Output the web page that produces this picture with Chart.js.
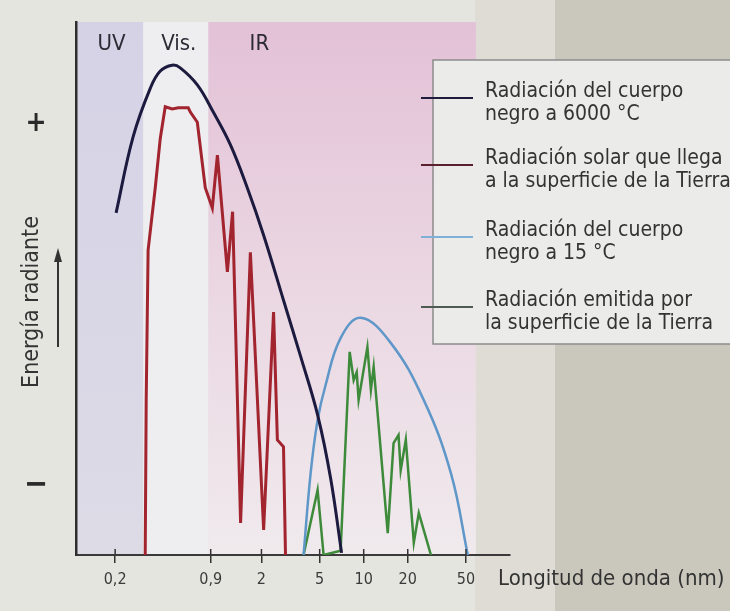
<!DOCTYPE html>
<html>
<head>
<meta charset="utf-8">
<script src="https://cdn.jsdelivr.net/npm/chart.js@4.4.1/dist/chart.umd.min.js"></script>
<style>
  html, body { margin: 0; padding: 0; }
  body {
    width: 730px; height: 611px; overflow: hidden;
    background: linear-gradient(to right, #e5e5df 0, #e5e5df 475px, #dedcd5 475px, #dedcd5 555px, #cac8bc 555px, #cac8bc 730px);
  }
  canvas { display: block; }
</style>
</head>
<body>
<canvas id="chart" width="730" height="611"></canvas>
<script>
// wavelength axis (log), ticks as printed
const xTickValues = [0.2, 0.9, 2, 5, 10, 20, 50];
const xTickLabels = ['0,2', '0,9', '2', '5', '10', '20', '50'];

// spectral bands: UV | Vis. | IR (wavelength limits)
const bandLabels = ['UV', 'Vis.', 'IR'];
const bandEdges = [0.108, 0.311, 0.867, 58.5];

const seriesNames = [
  ['Radiación del cuerpo', 'negro a 6000 °C'],
  ['Radiación solar que llega', 'a la superficie de la Tierra'],
  ['Radiación del cuerpo', 'negro a 15 °C'],
  ['Radiación emitida por', 'la superficie de la Tierra']
];

// black body 6000 °C
const sunBodyWave = [0.203, 0.265, 0.348, 0.407, 0.491, 0.557, 0.729, 0.937, 1.23, 1.60, 2.07, 2.83, 3.70, 4.84, 5.94, 7.06];
const sunBodyVal  = [64.2, 78.4, 87.6, 90.8, 91.9, 91.4, 88.2, 83.1, 76.9, 68.9, 60.0, 47.8, 37.3, 26.3, 14.4, 0.4];

// solar radiation reaching the ground
const solarWave = [0.321, 0.326, 0.336, 0.376, 0.407, 0.440, 0.491, 0.540, 0.632, 0.653, 0.729, 0.826, 0.923, 1.0, 1.17, 1.27, 1.44, 1.68, 2.07, 2.42, 2.57, 2.83, 2.92];
const solarVal  = [0, 29.1, 57.2, 68.9, 78.2, 84.1, 83.7, 83.9, 83.9, 83.1, 81.2, 68.9, 65.1, 75.0, 53.1, 64.4, 6.0, 56.8, 4.7, 45.6, 21.6, 20.3, 0];

// black body 15 °C
const earthBodyWave = [3.88, 4.34, 4.84, 5.49, 6.95, 9.53, 15.3, 25.7, 39.4, 51.5];
const earthBodyVal  = [0, 15.4, 25.3, 31.9, 40.7, 44.5, 39.8, 29.1, 15.4, 0];

// emitted by the Earth's surface
const earthWave = [3.88, 4.84, 5.32, 6.95, 8.02, 8.54, 8.96, 9.23, 10.6, 11.2, 11.7, 14.6, 16.0, 17.3, 17.9, 19.4, 22.0, 23.8, 28.8];
const earthVal  = [0, 12.2, 0, 0.8, 38.1, 32.8, 34.3, 29.1, 39.0, 31.0, 35.3, 4.1, 21.0, 22.5, 15.9, 21.6, 2.3, 7.9, 0];

const FONT = "'DejaVu Sans Condensed', 'DejaVu Sans', sans-serif";

function pts(xs, ys) {
  return xs.map((x, i) => ({ x: x, y: ys[i] }));
}

const bandsPlugin = {
  id: 'bands',
  beforeDraw(chart) {
    const { ctx, chartArea, scales } = chart;
    const { top, bottom, left, right } = chartArea;
    const px = bandEdges.map(v => scales.x.getPixelForValue(v));
    const h = bottom - top;
    ctx.save();
    let g = ctx.createLinearGradient(0, top, 0, bottom);
    g.addColorStop(0, '#d5d2e6');
    g.addColorStop(1, '#dddbe6');
    ctx.fillStyle = g;
    ctx.fillRect(left, top, px[1] - left, h);
    ctx.fillStyle = '#eeedf0';
    ctx.fillRect(px[1], top, px[2] - px[1], h);
    g = ctx.createLinearGradient(0, top, 0, bottom);
    g.addColorStop(0, '#e3c1d7');
    g.addColorStop(0.45, '#ead5e1');
    g.addColorStop(1, '#f0eaed');
    ctx.fillStyle = g;
    ctx.fillRect(px[2], top, px[3] - px[2], h);
    ctx.fillStyle = '#dedcd5';
    ctx.fillRect(px[3], top, right - px[3], h);

    ctx.fillStyle = '#2c2a34';
    ctx.font = '22px ' + FONT;
    ctx.textAlign = 'center';
    ctx.textBaseline = 'middle';
    ctx.fillText(bandLabels[0], (left + px[1]) / 2 + 2, 44);
    ctx.fillText(bandLabels[1], (px[1] + px[2]) / 2 + 3, 44);
    ctx.fillText(bandLabels[2], px[2] + 51, 44);
    ctx.restore();
  }
};

const legendColors = ['#1e1c3a', '#5a1f2c', '#7fb0d8', '#4f5a52'];
const legendRows = [98, 165, 237, 307];

const annotPlugin = {
  id: 'annot',
  afterDraw(chart) {
    const { ctx, chartArea, scales } = chart;
    ctx.save();

    // tick marks poking above the axis
    ctx.strokeStyle = '#333';
    ctx.lineWidth = 1.5;
    xTickValues.forEach(v => {
      const x = scales.x.getPixelForValue(v);
      ctx.beginPath();
      ctx.moveTo(x, chartArea.bottom - 6);
      ctx.lineTo(x, chartArea.bottom);
      ctx.stroke();
    });

    // legend box
    ctx.fillStyle = '#ebebea';
    ctx.fillRect(433, 60, 310, 284);
    ctx.strokeStyle = '#8c8c8c';
    ctx.lineWidth = 1.5;
    ctx.strokeRect(433, 60, 310, 284);
    ctx.font = '21px ' + FONT;
    ctx.textAlign = 'left';
    ctx.textBaseline = 'alphabetic';
    seriesNames.forEach((lines, i) => {
      const y = legendRows[i];
      ctx.strokeStyle = legendColors[i];
      ctx.lineWidth = 2;
      ctx.beginPath();
      ctx.moveTo(421, y);
      ctx.lineTo(473, y);
      ctx.stroke();
      ctx.fillStyle = '#333';
      ctx.fillText(lines[0], 485, y - 1);
      ctx.fillText(lines[1], 485, y + 22);
    });

    // y side: + / - and title with arrow
    ctx.fillStyle = '#2a2a2a';
    ctx.textAlign = 'center';
    ctx.textBaseline = 'middle';
    ctx.font = 'bold 28px ' + FONT;
    ctx.fillText('+', 36, 124);
    ctx.font = 'bold 32px ' + FONT;
    ctx.fillText('−', 36, 486);

    ctx.save();
    ctx.translate(32, 302);
    ctx.rotate(-Math.PI / 2);
    ctx.font = '23px ' + FONT;
    ctx.fillStyle = '#333';
    ctx.fillText('Energía radiante', 0, 0);
    ctx.restore();

    ctx.strokeStyle = '#333';
    ctx.lineWidth = 2;
    ctx.beginPath();
    ctx.moveTo(58, 347);
    ctx.lineTo(58, 258);
    ctx.stroke();
    ctx.fillStyle = '#333';
    ctx.beginPath();
    ctx.moveTo(58, 248);
    ctx.lineTo(62, 262);
    ctx.lineTo(54, 262);
    ctx.closePath();
    ctx.fill();

    // x title
    ctx.textAlign = 'left';
    ctx.textBaseline = 'alphabetic';
    ctx.font = '22px ' + FONT;
    ctx.fillStyle = '#333';
    ctx.fillText('Longitud de onda (nm)', 498, 585);
    ctx.restore();
  }
};

new Chart(document.getElementById('chart').getContext('2d'), {
  type: 'line',
  data: {
    datasets: [
      {
        label: seriesNames[0].join(' '),
        data: pts(sunBodyWave, sunBodyVal),
        borderColor: '#1c1a3e',
        borderWidth: 3,
        tension: 0.4
      },
      {
        label: seriesNames[1].join(' '),
        data: pts(solarWave, solarVal),
        borderColor: '#a2242f',
        borderWidth: 3,
        tension: 0,
        borderJoinStyle: 'miter'
      },
      {
        label: seriesNames[2].join(' '),
        data: pts(earthBodyWave, earthBodyVal),
        borderColor: '#5f97c9',
        borderWidth: 2.5,
        tension: 0.4
      },
      {
        label: seriesNames[3].join(' '),
        data: pts(earthWave, earthVal),
        borderColor: '#3e8a3b',
        borderWidth: 2.5,
        tension: 0,
        borderJoinStyle: 'miter'
      }
    ]
  },
  options: {
    responsive: false,
    animation: false,
    events: [],
    layout: { padding: { left: 76, top: 22, right: 220, bottom: 0 } },
    elements: { point: { radius: 0 } },
    plugins: {
      legend: { display: false },
      tooltip: { enabled: false }
    },
    scales: {
      x: {
        type: 'logarithmic',
        min: 0.108,
        max: 100,
        afterBuildTicks(scale) {
          scale.ticks = xTickValues.map(v => ({ value: v }));
        },
        afterFit(scale) {
          scale.height = 56;
        },
        ticks: {
          autoSkip: false,
          maxRotation: 0,
          padding: 7,
          color: '#3a3a3a',
          font: { family: FONT, size: 16 },
          callback: (v, i) => xTickLabels[i]
        },
        grid: {
          display: true,
          drawOnChartArea: false,
          tickLength: 8,
          color: '#333',
          lineWidth: 1.5
        },
        border: { display: true, color: '#3a3a3a', width: 2 }
      },
      y: {
        type: 'linear',
        min: 0,
        max: 100,
        afterFit(scale) {
          scale.width = 0;
        },
        ticks: { display: false },
        grid: { display: false },
        border: { display: true, color: '#2e2e2e', width: 2.5 }
      }
    }
  },
  plugins: [bandsPlugin, annotPlugin]
});
</script>
</body>
</html>
